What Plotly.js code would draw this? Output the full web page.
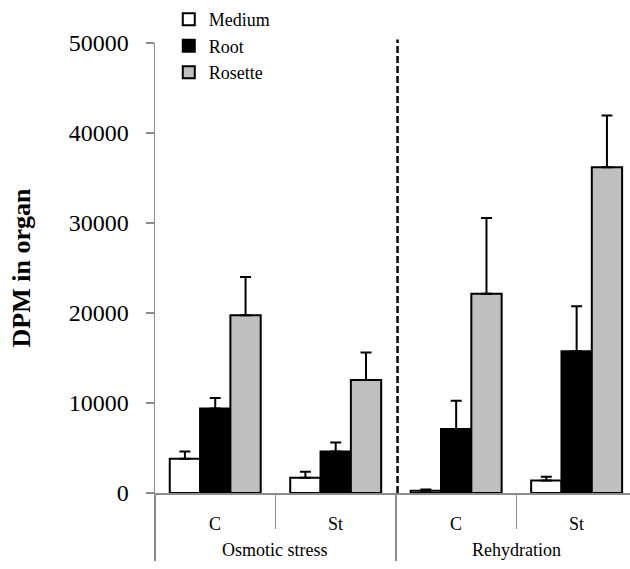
<!DOCTYPE html>
<html>
<head>
<meta charset="utf-8">
<script src="https://cdn.plot.ly/plotly-3.0.1.min.js"></script>
<style>html,body{margin:0;padding:0;background:#fff;}#chart{width:630px;height:569px;}</style>
</head>
<body>
<div id="chart"></div>
<script>
// ---- data ----
var phases = ["Osmotic stress", "Osmotic stress", "Rehydration", "Rehydration"];
var treatments = ["C", "St", "C", "St"];
var phaseNames = ["Osmotic stress", "Rehydration"];
var mediumValues = [3800, 1700, 250, 1400];
var mediumErrors = [800, 650, 150, 400];
var rootValues = [9400, 4600, 7100, 15750];
var rootErrors = [1150, 1000, 3150, 5000];
var rosetteValues = [19750, 12550, 22150, 36200];
var rosetteErrors = [4250, 3050, 8400, 5750];
var yTickValues = [0, 10000, 20000, 30000, 40000, 50000];

var FONT = "Liberation Serif";
var AXIS_GREY = "#8c8c8c";

function makeTrace(name, vals, errs, fill, group) {
  return {
    type: "bar",
    name: name,
    legendgroup: group,
    x: [phases, treatments],
    y: vals,
    marker: { color: fill, line: { color: "#000", width: 2 } },
    error_y: { type: "data", array: errs, symmetric: false, arrayminus: [0,0,0,0],
               color: "#000", thickness: 2, width: 5.5 }
  };
}

var data = [
  makeTrace("Medium", mediumValues, mediumErrors, "#ffffff", "g1"),
  makeTrace("Root", rootValues, rootErrors, "#000000", "g2"),
  makeTrace("Rosette", rosetteValues, rosetteErrors, "#bfbfbf", "g3")
];

// category-level labels and group labels as annotations on the numeric overlay axis
var annotations = [];
treatments.forEach(function (t, i) {
  annotations.push({ xref: "x2", yref: "paper", x: i, y: -0.0688, text: t, showarrow: false,
                     xanchor: "center", yanchor: "middle", font: { family: FONT, size: 18, color: "#000" } });
});
phaseNames.forEach(function (p, j) {
  annotations.push({ xref: "x2", yref: "paper", x: 2 * j + 0.5, y: -0.1266, text: p, showarrow: false,
                     xanchor: "center", yanchor: "middle", font: { family: FONT, size: 18, color: "#000" } });
});

var layout = {
  width: 630, height: 569,
  margin: { l: 154.5, r: 0, t: 42.7, b: 76, pad: 0 },
  paper_bgcolor: "#fff", plot_bgcolor: "#fff",
  font: { family: FONT, color: "#000", size: 18 },
  barmode: "group",
  bargap: 0.245, bargroupgap: 0,
  showlegend: true,
  legend: { x: 0.029, y: 1.093, xanchor: "left", yanchor: "top",
            font: { family: FONT, size: 18, color: "#000" },
            tracegroupgap: 3, bgcolor: "rgba(0,0,0,0)", traceorder: "normal" },
  xaxis: {
    type: "multicategory",
    range: [-0.5, 3.443],
    showline: true, linecolor: AXIS_GREY, linewidth: 1.5,
    ticks: "outside", tickson: "boundaries", ticklen: 34, tickcolor: AXIS_GREY, tickwidth: 1.5,
    showticklabels: false, showdividers: false,
    showgrid: false, zeroline: false, fixedrange: true
  },
  xaxis2: {
    overlaying: "x", anchor: "y", side: "bottom",
    range: [-0.5, 3.443],
    tickvals: [-0.5, 1.5, 3.5],
    ticks: "outside", ticklen: 67, tickcolor: AXIS_GREY, tickwidth: 1.5,
    showticklabels: false, showline: false, showgrid: false, zeroline: false, fixedrange: true
  },
  yaxis: {
    range: [0, 50000],
    tickvals: yTickValues,
    ticktext: yTickValues.map(String),
    showline: true, linecolor: AXIS_GREY, linewidth: 1.5,
    ticks: "outside", ticklen: 8, tickcolor: AXIS_GREY, tickwidth: 1.5,
    ticklabelstandoff: 12,
    tickfont: { family: FONT, size: 24, color: "#000" },
    showgrid: false, zeroline: false,
    title: { text: "<b>DPM in organ</b>", font: { family: FONT, size: 26, color: "#000" }, standoff: 30 }
  },
  annotations: annotations,
  shapes: [
    { type: "line", xref: "paper", yref: "paper", x0: 0.5106, x1: 0.5106, y0: 0, y1: 1.008,
      line: { color: "#000", width: 2.5, dash: "7px,3px" } }
  ]
};

Plotly.newPlot("chart", data, layout, { displayModeBar: false, staticPlot: true });
</script>
</body>
</html>
